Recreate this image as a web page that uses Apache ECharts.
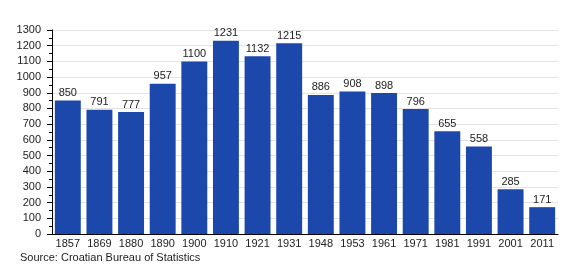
<!DOCTYPE html>
<html><head><meta charset="utf-8">
<script src="https://cdn.jsdelivr.net/npm/echarts@6/dist/echarts.min.js"></script>
<style>html,body{margin:0;padding:0;background:#fff}#c{width:580px;height:280px}</style>
</head><body><div id="c"></div>
<script>
const years = ['1857','1869','1880','1890','1900','1910','1921','1931','1948','1953','1961','1971','1981','1991','2001','2011'];
const population = [850,791,777,957,1100,1231,1132,1215,886,908,898,796,655,558,285,171];
const sourceText = 'Source: Croatian Bureau of Statistics';
const font = '"Liberation Sans", Arial, sans-serif';
const chart = echarts.init(document.getElementById('c'));
chart.setOption({
  animation:false,
  grid:{left:52,right:22,top:30,bottom:46},
  graphic:[{type:'text',left:20,top:252,style:{text:sourceText,font:'11px '+font,fill:'#222'}}],
  xAxis:{type:'category',data:years,
    axisLine:{lineStyle:{color:'#000',width:1}},
    axisTick:{show:false},
    axisLabel:{interval:0,color:'#222',fontSize:11,fontFamily:font,margin:4}},
  yAxis:{type:'value',min:0,max:1300,interval:100,
    axisLine:{show:true,lineStyle:{color:'#000'}},
    axisTick:{show:true,length:5,lineStyle:{color:'#000'}},
    minorTick:{show:true,splitNumber:2,length:3,lineStyle:{color:'#000'}},
    splitLine:{lineStyle:{color:'#e4e4e4'}},
    axisLabel:{color:'#222',fontSize:11,fontFamily:font,margin:11,formatter:v=>String(v)}},
  series:[{type:'bar',data:population,barCategoryGap:'18%',
    itemStyle:{color:'#1c48ab'},
    label:{show:true,position:'top',distance:2,color:'#222',fontSize:11,fontFamily:font}}]
});
</script></body></html>
